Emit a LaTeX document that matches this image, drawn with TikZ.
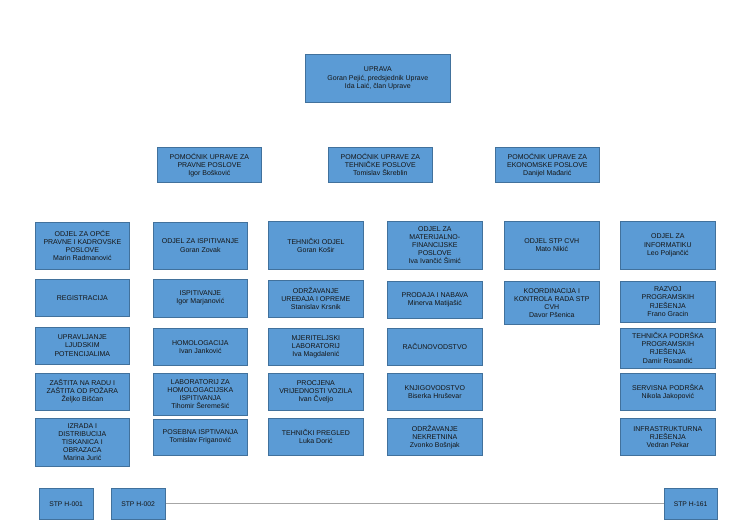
\documentclass[tikz,border=0pt]{standalone}
\usepackage{fontspec}
\setmainfont{Liberation Sans}
\definecolor{boxblue}{HTML}{5B9BD5}
\definecolor{boxedge}{HTML}{41719C}
\definecolor{txt}{HTML}{151515}
\definecolor{linegray}{HTML}{A6A6A6}
\tikzset{
  orgbox/.style={draw=boxedge, fill=boxblue, line width=0.7pt, inner sep=0pt,
    align=center, anchor=north west, text=txt,
    font=\fontsize{7}{8.1}\selectfont},
  stpbox/.style={orgbox, font=\fontsize{6.8}{8}\selectfont},
  conn/.style={draw=linegray, line width=1pt}
}
\newcommand{\obox}[6]{\node[orgbox, minimum width=#4pt, minimum height=#5pt] (#1) at (#2,#3) {#6};}
\begin{document}
\begin{tikzpicture}[x=1pt,y=-1pt]
\useasboundingbox (0,0) rectangle (750,531);
% top
\obox{upr}{305}{54}{145}{48}{UPRAVA\\Goran Pejić, predsjednik Uprave\\Ida Laić, član Uprave}
\obox{pa1}{157}{147}{104}{35}{POMOĆNIK UPRAVE ZA\\PRAVNE POSLOVE\\Igor Bošković}
\obox{pa2}{328}{147}{104}{35}{POMOĆNIK UPRAVE ZA\\TEHNIČKE POSLOVE\\Tomislav Škreblin}
\obox{pa3}{495}{147}{104}{35}{POMOĆNIK UPRAVE ZA\\EKONOMSKE POSLOVE\\Danijel Mađarić}
% column 1
\obox{a1}{35}{221.5}{94}{47.5}{ODJEL ZA OPĆE\\PRAVNE I KADROVSKE\\POSLOVE\\Marin Radmanović}
\obox{a2}{35}{279}{94}{37}{REGISTRACIJA}
\obox{a3}{35}{326.5}{94}{37.5}{UPRAVLJANJE\\LJUDSKIM\\POTENCIJALIMA}
\obox{a4}{35}{372.5}{94}{37}{ZAŠTITA NA RADU I\\ZAŠTITA OD POŽARA\\Željko Bišćan}
\obox{a5}{35}{417.5}{94}{48}{IZRADA I\\DISTRIBUCIJA\\TISKANICA I\\OBRAZACA\\Marina Jurić}
% column 2
\obox{b1}{153}{221.5}{94}{47.5}{ODJEL ZA ISPITIVANJE\\Goran Zovak}
\obox{b2}{153}{279}{94}{37.5}{ISPITIVANJE\\Igor Marjanović}
\obox{b3}{153}{328}{94}{37}{HOMOLOGACIJA\\Ivan Janković}
\obox{b4}{153}{372.5}{94}{42}{LABORATORIJ ZA\\HOMOLOGACIJSKA\\ISPITIVANJA\\Tihomir Šeremešić}
\obox{b5}{153}{418.5}{94}{36.5}{POSEBNA ISPTIVANJA\\Tomislav Friganović}
% column 3
\obox{c1}{268}{221}{95}{48}{TEHNIČKI ODJEL\\Goran Košir}
\obox{c2}{268}{280}{95}{37}{ODRŽAVANJE\\UREĐAJA I OPREME\\Stanislav Krsnik}
\obox{c3}{268}{328}{95}{37}{MJERITELJSKI\\LABORATORIJ\\Iva Magdalenić}
\obox{c4}{268}{373}{95}{37}{PROCJENA\\VRIJEDNOSTI VOZILA\\Ivan Čveljo}
\obox{c5}{268}{418}{95}{37}{TEHNIČKI PREGLED\\Luka Dorić}
% column 4
\obox{d1}{387}{221}{95}{48}{ODJEL ZA\\MATERIJALNO-\\FINANCIJSKE\\POSLOVE\\Iva Ivančić Šimić}
\obox{d2}{387}{280.5}{95}{37.5}{PRODAJA I NABAVA\\Minerva Matijašić}
\obox{d3}{387}{328}{95}{37}{RAČUNOVODSTVO}
\obox{d4}{387}{373}{95}{37}{KNJIGOVODSTVO\\Biserka Hruševar}
\obox{d5}{387}{418}{95}{37}{ODRŽAVANJE\\NEKRETNINA\\Zvonko Bošnjak}
% column 5
\obox{e1}{504}{221}{95}{48}{ODJEL STP CVH\\Mato Nikić}
\obox{e2}{504}{281}{95}{43}{KOORDINACIJA I\\KONTROLA RADA STP\\CVH\\Davor Pšenica}
% column 6
\obox{f1}{620}{221}{95}{48}{ODJEL ZA\\INFORMATIKU\\Leo Poljančić}
\obox{f2}{620}{281}{95}{40.5}{RAZVOJ\\PROGRAMSKIH\\RJEŠENJA\\Frano Gracin}
\obox{f3}{620}{327.5}{95}{40}{TEHNIČKA PODRŠKA\\PROGRAMSKIH\\RJEŠENJA\\Damir Rosandić}
\obox{f4}{620}{373}{95}{37}{SERVISNA PODRŠKA\\Nikola Jakopović}
\obox{f5}{620}{418}{95}{37}{INFRASTRUKTURNA\\RJEŠENJA\\Vedran Pekar}
% bottom STP stations
\node[stpbox, minimum width=53.5pt, minimum height=31pt] (s1) at (39,488) {STP H-001};
\node[stpbox, minimum width=54.5pt, minimum height=31pt] (s2) at (110.5,488) {STP H-002};
\node[stpbox, minimum width=53.5pt, minimum height=31pt] (s3) at (663.5,488) {STP H-161};
\draw[conn] (s2.east) -- (s3.west);
\end{tikzpicture}
\end{document}
